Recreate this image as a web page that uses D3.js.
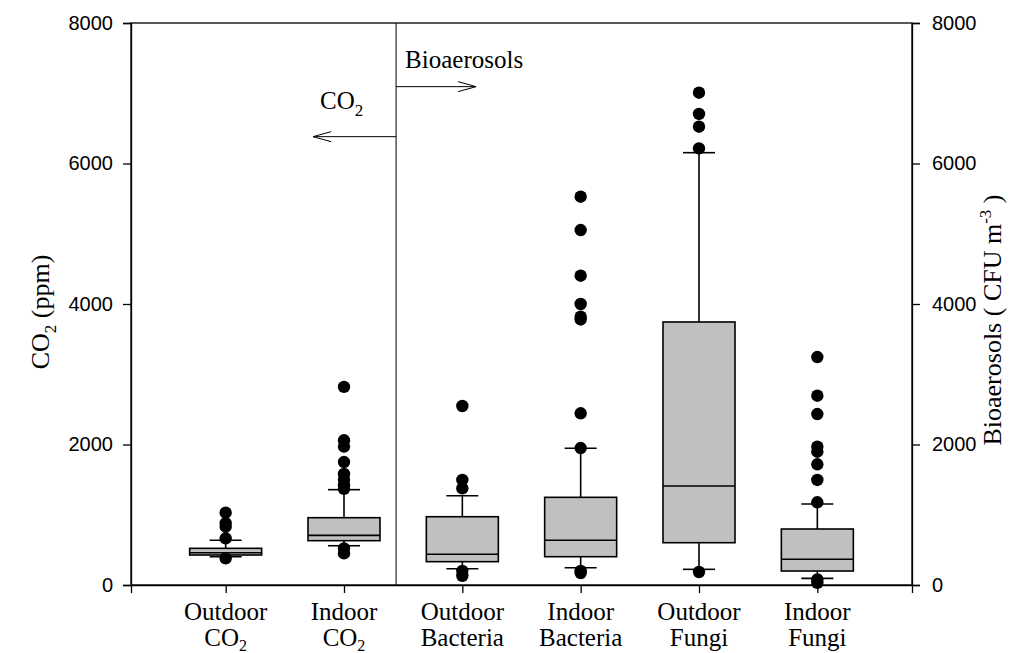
<!DOCTYPE html>
<html><head><meta charset="utf-8">
<script src="https://cdn.jsdelivr.net/npm/d3@7"></script>
<style>body{margin:0;background:#fff}svg{display:block}</style>
</head><body>
<svg id="c" width="1030" height="653"></svg>
<script>
const categories = [["Outdoor","CO","2"],["Indoor","CO","2"],["Outdoor","Bacteria",""],["Indoor","Bacteria",""],["Outdoor","Fungi",""],["Indoor","Fungi",""]];
const q1      = [427, 631, 332, 403, 602, 199];
const median  = [460, 707, 437, 636, 1409, 366];
const q3      = [522, 958, 972, 1248, 3744, 797];
const whiskLo = [403, 559, 232, 246, 223, 95];
const whiskHi = [636, 1357, 1271, 1946, 6154, 1153];
const outliers = [
  [1030, 880, 830, 665, 380],
  [2820, 2060, 1970, 1750, 1580, 1500, 1420, 1370, 520, 450],
  [2548, 1495, 1376, 200, 130],
  [5527, 5053, 4403, 4000, 3819, 3780, 2444, 1950, 200, 170],
  [7008, 6705, 6524, 6216, 185],
  [3245, 2695, 2434, 1969, 1897, 1718, 1495, 1177, 80, 30]
];
const yTicks = [0, 2000, 4000, 6000, 8000];

const svg = d3.select("#c");
const L = 131, R = 912, T = 23, B = 585;
const idx = d3.range(categories.length);
const x = d3.scalePoint().domain(idx).range([L, R]).padding(0.8);
const step = x.step();
const yL = d3.scaleLinear().domain([0, 8000]).range([B, T]);
const yR = d3.scaleLinear().domain([0, 8000]).range([B, T]);
const bw = 72, cap = 16;

// frame
svg.append("rect").attr("x", L).attr("y", T).attr("width", R - L).attr("height", B - T)
  .attr("fill", "none").attr("stroke", "#000").attr("stroke-width", 1.3);

// axes
const axL = svg.append("g").attr("transform", `translate(${L},0)`)
  .call(d3.axisLeft(yL).tickValues(yTicks).tickSize(8).tickPadding(10).tickFormat(d3.format("d")));
const axR = svg.append("g").attr("transform", `translate(${R},0)`)
  .call(d3.axisRight(yR).tickValues(yTicks).tickSize(8).tickPadding(12).tickFormat(d3.format("d")));
const axB = svg.append("g").attr("transform", `translate(0,${B})`)
  .call(d3.axisBottom(x).tickSize(8).tickFormat(""));
[axL, axR, axB].forEach(a => {
  a.select(".domain").attr("stroke", "#000").attr("stroke-width", 1.3);
  a.selectAll(".tick line").attr("stroke", "#000").attr("stroke-width", 1.3);
  a.selectAll(".tick text").attr("font-family", "Liberation Sans, Arial, sans-serif")
    .attr("font-size", 20).attr("fill", "#000");
});

// category labels
const serif = "Liberation Serif, Times New Roman, serif";
idx.forEach(i => {
  const c = categories[i];
  const g = svg.append("g").attr("font-family", serif).attr("font-size", 25).attr("fill", "#000")
    .attr("text-anchor", "middle");
  g.append("text").attr("x", x(i)).attr("y", 620).text(c[0]);
  const t = g.append("text").attr("x", x(i)).attr("y", 646);
  t.append("tspan").text(c[1]);
  if (c[2]) t.append("tspan").attr("dy", 5).attr("font-size", 16).text(c[2]);
});

// boxes
idx.forEach(i => {
  const cx = x(i);
  const g = svg.append("g").attr("stroke", "#000").attr("stroke-width", 1.6);
  g.append("line").attr("x1", cx).attr("x2", cx).attr("y1", yL(whiskHi[i])).attr("y2", yL(q3[i]));
  g.append("line").attr("x1", cx).attr("x2", cx).attr("y1", yL(q1[i])).attr("y2", yL(whiskLo[i]));
  g.append("line").attr("x1", cx - cap).attr("x2", cx + cap).attr("y1", yL(whiskHi[i])).attr("y2", yL(whiskHi[i]));
  g.append("line").attr("x1", cx - cap).attr("x2", cx + cap).attr("y1", yL(whiskLo[i])).attr("y2", yL(whiskLo[i]));
  g.append("rect").attr("x", cx - bw / 2).attr("width", bw)
    .attr("y", yL(q3[i])).attr("height", yL(q1[i]) - yL(q3[i])).attr("fill", "#c0c0c0");
  g.append("line").attr("x1", cx - bw / 2).attr("x2", cx + bw / 2).attr("y1", yL(median[i])).attr("y2", yL(median[i]));
  svg.append("g").selectAll("circle").data(outliers[i]).join("circle")
    .attr("cx", cx).attr("cy", d => yL(d)).attr("r", 6.2).attr("fill", "#000");
});

// divider and annotations
const dx = x(1) + step * 0.44;
svg.append("line").attr("x1", dx).attr("x2", dx).attr("y1", T).attr("y2", B)
  .attr("stroke", "#000").attr("stroke-width", 1);
function arrow(x1, x2, yv) {
  const dir = Math.sign(x2 - x1);
  svg.append("line").attr("x1", x1).attr("x2", x2).attr("y1", yv).attr("y2", yv)
    .attr("stroke", "#000").attr("stroke-width", 1);
  svg.append("path").attr("d", `M${x2 - dir * 18},${yv - 5}L${x2},${yv}L${x2 - dir * 18},${yv + 5}`)
    .attr("fill", "none").attr("stroke", "#000").attr("stroke-width", 1);
}
const yArrowR = yL(7094), yArrowL = yL(6382);
arrow(dx, dx + 80, yArrowR);
arrow(dx, dx - 83, yArrowL);
svg.append("text").attr("x", dx + 9).attr("y", yL(7359)).attr("font-family", serif).attr("font-size", 25)
  .attr("fill", "#000").text("Bioaerosols");
const co = svg.append("text").attr("x", dx - 76).attr("y", yL(6776)).attr("font-family", serif)
  .attr("font-size", 25).attr("fill", "#000");
co.append("tspan").text("CO");
co.append("tspan").attr("dy", 7).attr("font-size", 17).text("2");

// axis titles
const lt = svg.append("text").attr("transform", `translate(49,${(T + B) / 2 + 8}) rotate(-90)`)
  .attr("text-anchor", "middle").attr("font-family", serif).attr("font-size", 26).attr("fill", "#000");
lt.append("tspan").text("CO");
lt.append("tspan").attr("dy", 7).attr("font-size", 17).text("2");
lt.append("tspan").attr("dy", -7).text(" (ppm)");
const rt = svg.append("text").attr("transform", `translate(1001,${(T + B) / 2 + 16}) rotate(-90)`)
  .attr("text-anchor", "middle").attr("font-family", serif).attr("font-size", 26).attr("fill", "#000");
rt.append("tspan").text("Bioaerosols ( CFU m");
rt.append("tspan").attr("dy", -10).attr("font-size", 17).text("-3");
rt.append("tspan").attr("dy", 10).text(" )");
</script>
</body></html>
